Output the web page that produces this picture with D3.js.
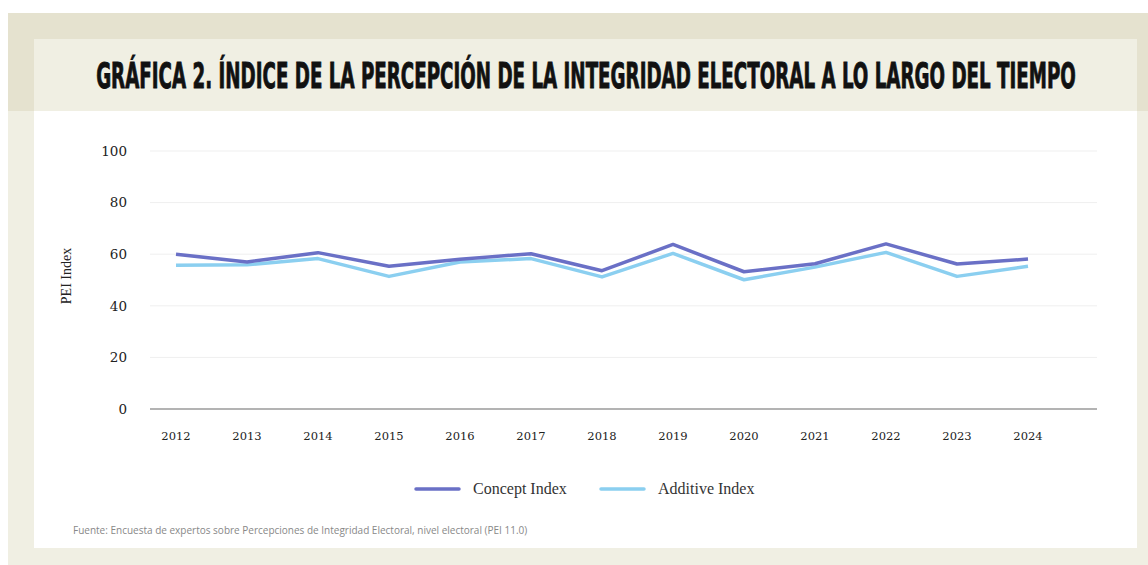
<!DOCTYPE html>
<html>
<head>
<meta charset="utf-8">
<script src="https://cdn.jsdelivr.net/npm/d3@7"></script>
<style>
  html, body { margin: 0; padding: 0; background: #fff; }
</style>
</head>
<body>
<div id="chart"></div>
<script>
const years = [2012, 2013, 2014, 2015, 2016, 2017, 2018, 2019, 2020, 2021, 2022, 2023, 2024];
const conceptIndex = [60, 57, 60.6, 55.3, 58, 60.2, 53.6, 63.8, 53.2, 56.3, 64, 56.2, 58.1];
const additiveIndex = [55.7, 55.9, 58.3, 51.4, 57, 58.3, 51.2, 60.3, 50.1, 55, 60.7, 51.4, 55.3];
const yTicks = [0, 20, 40, 60, 80, 100];
const seriesNames = ["Concept Index", "Additive Index"];

const width = 1148, height = 565;
const conceptColor = "#6a70c6";
const additiveColor = "#8bcff0";

const svg = d3.select("#chart").append("svg")
  .attr("width", width)
  .attr("height", height);

// Background frames
svg.append("rect").attr("x", 8).attr("y", 13).attr("width", width - 8).attr("height", height - 13).attr("fill", "#f0efe3");
svg.append("rect").attr("x", 8).attr("y", 13).attr("width", width - 8).attr("height", 98).attr("fill", "#e5e2cf");
svg.append("rect").attr("x", 34).attr("y", 39).attr("width", 1103).attr("height", 72).attr("fill", "#f0efe3");
svg.append("rect").attr("x", 34).attr("y", 111).attr("width", 1103).attr("height", 437).attr("fill", "#fff");

// Title - squeeze horizontally to the reference width
const title = svg.append("text")
  .attr("x", 0)
  .attr("y", 0)
  .attr("text-anchor", "middle")
  .style("font-family", "'Liberation Sans Narrow', 'DejaVu Sans Condensed', sans-serif")
  .style("font-weight", "bold")
  .style("font-size", "36px")
  .style("fill", "#111")
  .style("stroke", "#111")
  .style("stroke-width", "0.9px")
  .text("GRÁFICA 2. ÍNDICE DE LA PERCEPCIÓN DE LA INTEGRIDAD ELECTORAL A LO LARGO DEL TIEMPO");
const natural = title.node().getComputedTextLength();
title.attr("transform", `translate(586,88) scale(${980 / natural},1)`);

// Scales
const x = d3.scalePoint().domain(years).range([176, 1028]);
const y = d3.scaleLinear().domain([0, 100]).range([409, 151]);

// Grid
svg.append("g").selectAll("line")
  .data(yTicks.filter(d => d > 0))
  .join("line")
  .attr("x1", 150).attr("x2", 1097)
  .attr("y1", d => y(d)).attr("y2", d => y(d))
  .attr("stroke", "#efefef")
  .attr("stroke-width", 1);

svg.append("line")
  .attr("x1", 150).attr("x2", 1097)
  .attr("y1", y(0)).attr("y2", y(0))
  .attr("stroke", "#9a9a9a")
  .attr("stroke-width", 1.5);

// Y axis labels
svg.append("g").selectAll("text")
  .data(yTicks)
  .join("text")
  .attr("x", 127)
  .attr("y", d => y(d))
  .attr("dy", "0.35em")
  .attr("text-anchor", "end")
  .style("font-family", "'DejaVu Serif', serif")
  .style("font-size", "13.5px")
  .style("fill", "#222")
  .text(d => d);

svg.append("text")
  .attr("transform", "translate(71,276) rotate(-90)")
  .attr("text-anchor", "middle")
  .style("font-family", "'Liberation Serif', serif")
  .style("font-size", "14px")
  .style("fill", "#222")
  .text("PEI Index");

// X axis labels
svg.append("g").selectAll("text")
  .data(years)
  .join("text")
  .attr("x", d => x(d))
  .attr("y", 440)
  .attr("text-anchor", "middle")
  .style("font-family", "'DejaVu Serif', serif")
  .style("font-size", "11.5px")
  .style("fill", "#222")
  .text(d => d);

// Lines
const line = d3.line()
  .x((d, i) => x(years[i]))
  .y(d => y(d));

[[additiveIndex, additiveColor], [conceptIndex, conceptColor]].forEach(([vals, col]) => {
  svg.append("path")
    .datum(vals)
    .attr("d", line)
    .attr("fill", "none")
    .attr("stroke", col)
    .attr("stroke-width", 3.5)
    .attr("stroke-linejoin", "round");
});

// Legend
const legend = svg.append("g");
const legendItems = [
  { name: seriesNames[0], color: conceptColor, x: 416 },
  { name: seriesNames[1], color: additiveColor, x: 601 }
];
legendItems.forEach(d => {
  legend.append("line")
    .attr("x1", d.x).attr("x2", d.x + 43)
    .attr("y1", 489).attr("y2", 489)
    .attr("stroke", d.color)
    .attr("stroke-width", 3.5)
    .attr("stroke-linecap", "round");
  legend.append("text")
    .attr("x", d.x + 57)
    .attr("y", 494)
    .style("font-family", "'Liberation Serif', serif")
    .style("font-size", "16px")
    .style("fill", "#333")
    .text(d.name);
});

// Source
svg.append("text")
  .attr("x", 73)
  .attr("y", 534)
  .style("font-family", "'Open Sans', sans-serif")
  .style("font-size", "10px")
  .style("fill", "#888")
  .text("Fuente: Encuesta de expertos sobre Percepciones de Integridad Electoral, nivel electoral (PEI 11.0)");
</script>
</body>
</html>
